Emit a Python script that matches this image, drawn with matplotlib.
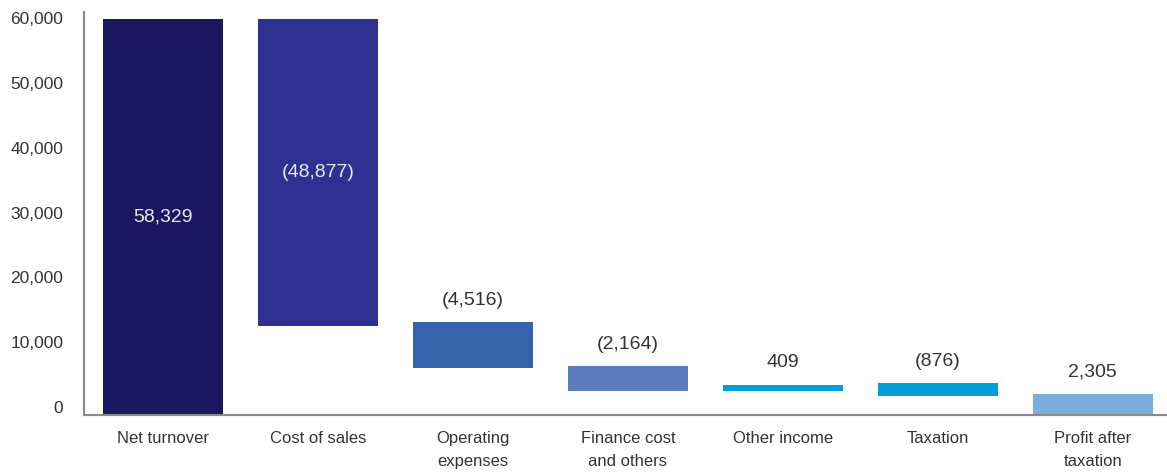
#!/usr/bin/env python3
"""Waterfall chart: net turnover to profit after taxation."""

import matplotlib
matplotlib.use("Agg")
import matplotlib.pyplot as plt
from matplotlib import ticker

plt.rcParams['font.family'] = ['Liberation Sans', 'DejaVu Sans']

# Data (as drawn in the reference, which is not strictly to scale)
categories = ['Net turnover', 'Cost of sales', 'Operating\nexpenses',
              'Finance cost\nand others', 'Other income', 'Taxation',
              'Profit after\ntaxation']
value_labels = ['58,329', '(48,877)', '(4,516)', '(2,164)', '409', '(876)', '2,305']
AXIS_BASE = -1235
bar_tops = [59870, 59870, 13116, 6327, 3395, 3703, 2006]
bar_bottoms = [AXIS_BASE, 12500, 6018, 2469, 2469, 1697, AXIS_BASE]
label_inside = [True, True, False, False, False, False, False]
colors = ['#1c1660', '#2e3192', '#3763ad', '#5a7bbf', '#009fda', '#009fda', '#7aaddc']
y_ticks = [0, 10000, 20000, 30000, 40000, 50000, 60000]

TEXT = '#333333'
AXIS = '#8a8a8a'

fig = plt.figure(figsize=(11.67, 4.72), dpi=100, facecolor='white')
ax = fig.add_axes([84 / 1167, 57 / 472, 1 - 84 / 1167, (415 - 12) / 472])

x = list(range(len(categories)))
heights = [t - b for t, b in zip(bar_tops, bar_bottoms)]
bars = ax.bar(x, heights, bottom=bar_bottoms, width=0.774, color=colors,
              linewidth=0)

# Value labels
for i, bar in enumerate(bars):
    cx = bar.get_x() + bar.get_width() / 2
    if label_inside[i]:
        ax.text(cx, (bar_tops[i] + bar_bottoms[i]) / 2, value_labels[i],
                ha='center', va='center', fontsize=14, color='#e8e8f0')
    else:
        ax.annotate(value_labels[i], (cx, bar_tops[i]), xytext=(0, 22),
                    textcoords='offset pixels', ha='center', va='center',
                    fontsize=14, color=TEXT)

# Axes formatting
ax.set_xlim(-0.51, 6.48)
ax.set_ylim(AXIS_BASE, 60960)
ax.set_xticks(x)
ax.set_xticklabels(categories, fontsize=12, color=TEXT, linespacing=1.7,
                   va='top')
ax.set_yticks(y_ticks)
ax.yaxis.set_major_formatter(ticker.FuncFormatter(lambda v, p: f'{int(v):,}'))
ax.tick_params(axis='y', length=0, pad=15, labelsize=12.5, labelcolor=TEXT)
ax.tick_params(axis='x', length=0, pad=11.5)

ax.spines['top'].set_visible(False)
ax.spines['right'].set_visible(False)
for side in ('left', 'bottom'):
    ax.spines[side].set_color(AXIS)
    ax.spines[side].set_linewidth(1.5)

fig.savefig('out.png', dpi=100, facecolor='white')
plt.close(fig)
